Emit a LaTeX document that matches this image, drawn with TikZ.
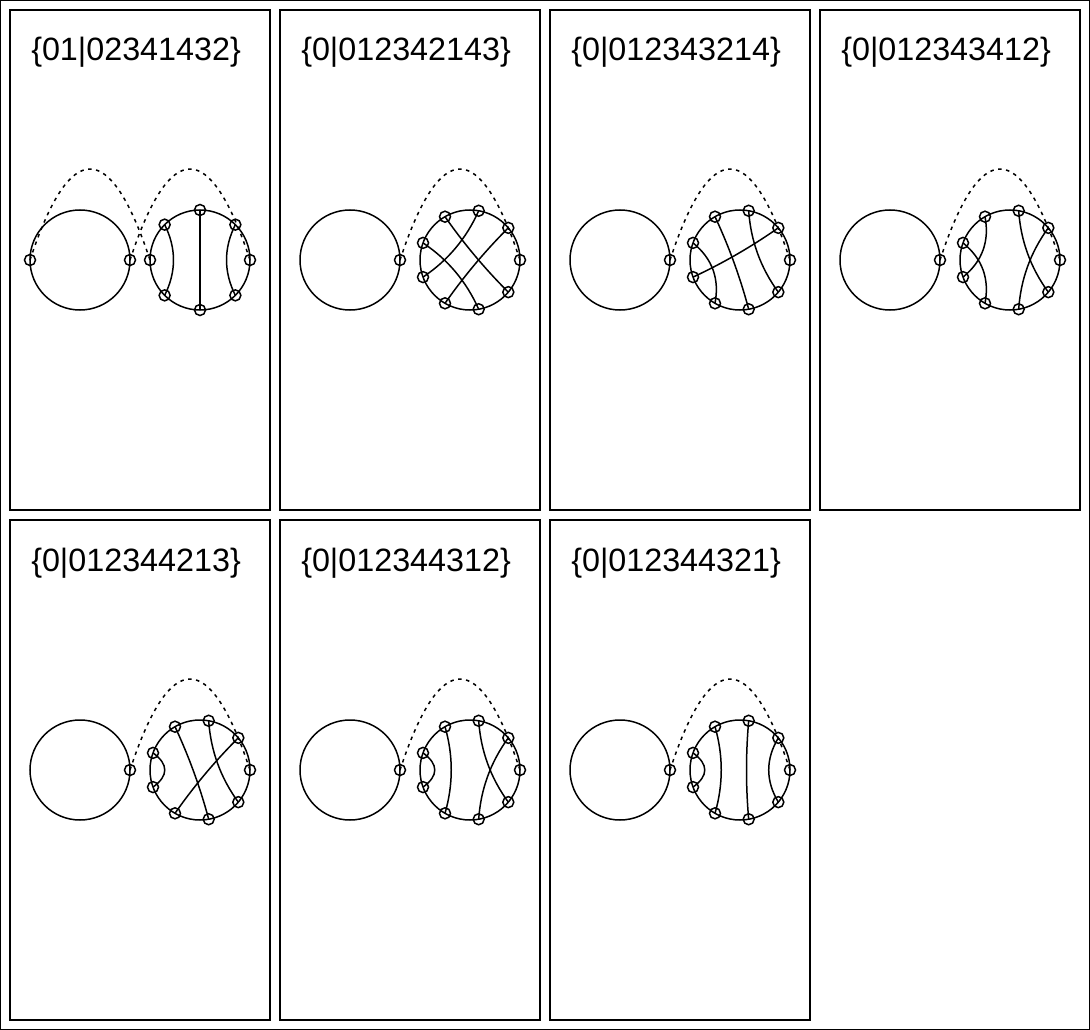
\documentclass[tikz,border=0pt]{standalone}
\usepackage{fontspec}
\setmainfont{Liberation Sans}
\usetikzlibrary{calc}
\tikzstyle{ringdot}=[circle,draw=black,
                     inner sep=0pt,minimum size=11pt]
\tikzstyle{ring}=[circle,draw=black,
                  inner sep=0pt,minimum size=100pt]
\tikzstyle{bridge}=[dash pattern=on 3.5pt off 4.5pt]
\tikzstyle{wordlabel}=[anchor=base west,inner sep=0pt,
                       font=\fontsize{32.3}{35}\selectfont]
% frame, word and left circle of one panel
\newcommand{\panelbase}[1]{
  \draw (0,0) rectangle (260,500);
  \node (word) at (20.5,51) [wordlabel]{#1};
  \node (lc) at (70,250) [ring]{};
  \node (l0) at (120,250) [ringdot]{};
  \node (rc) at (190,250) [ring]{};
}
% chord bent half way towards the centre of the right circle
\newcommand{\chord}[2]{
  \coordinate (mid) at ($(r#1.center)!.5!(r#2.center)$);
  \coordinate (bend) at ($(rc.center)!.5!(mid)$);
  \draw (r#1.center) .. controls ($(r#1.center)!.667!(bend)$)
    and ($(r#2.center)!.667!(bend)$) .. (r#2.center);
}
\newcommand{\linkup}[2]{
  \draw[bridge] (#1.center) .. controls +(40,-121.3)
    and +(-40,-121.3) .. (#2.center);
}
% nine dots, used by all panels but the first
\newcommand{\ninedots}{
  \foreach \k in {0,...,8}
    \node (r\k) at ($(rc)+(\k*40:50)$) [ringdot]{};
  \linkup{l0}{r0}
}
\begin{document}
\begin{tikzpicture}[x=1pt,y=-1pt,line width=1.5pt]
  \useasboundingbox (0,0) rectangle (1090,1030);
  \draw (0.5,0.5) rectangle (1089.5,1029.5);
  \begin{scope}[shift={(10,10)},name prefix=a-]
    \panelbase{\{01|02341432\}}
    \node (l1) at (20,250) [ringdot]{};
    \foreach \k in {0,...,7}
      \node (r\k) at ($(rc)+(\k*45:50)$) [ringdot]{};
    \linkup{l0}{r0}
    \linkup{l1}{r4}
    \chord{1}{7} \chord{2}{6} \chord{3}{5}
  \end{scope}
  \begin{scope}[shift={(280,10)},name prefix=b-]
    \panelbase{\{0|012342143\}}
    \ninedots
    \chord{1}{6} \chord{2}{5} \chord{3}{8} \chord{4}{7}
  \end{scope}
  \begin{scope}[shift={(550,10)},name prefix=c-]
    \panelbase{\{0|012343214\}}
    \ninedots
    \chord{1}{7} \chord{2}{6} \chord{3}{5} \chord{4}{8}
  \end{scope}
  \begin{scope}[shift={(820,10)},name prefix=d-]
    \panelbase{\{0|012343412\}}
    \ninedots
    \chord{1}{7} \chord{2}{8} \chord{3}{5} \chord{4}{6}
  \end{scope}
  \begin{scope}[shift={(10,520)},name prefix=e-]
    \panelbase{\{0|012344213\}}
    \ninedots
    \chord{1}{7} \chord{2}{6} \chord{3}{8} \chord{4}{5}
  \end{scope}
  \begin{scope}[shift={(280,520)},name prefix=f-]
    \panelbase{\{0|012344312\}}
    \ninedots
    \chord{1}{7} \chord{2}{8} \chord{3}{6} \chord{4}{5}
  \end{scope}
  \begin{scope}[shift={(550,520)},name prefix=g-]
    \panelbase{\{0|012344321\}}
    \ninedots
    \chord{1}{8} \chord{2}{7} \chord{3}{6} \chord{4}{5}
  \end{scope}
\end{tikzpicture}
\end{document}
